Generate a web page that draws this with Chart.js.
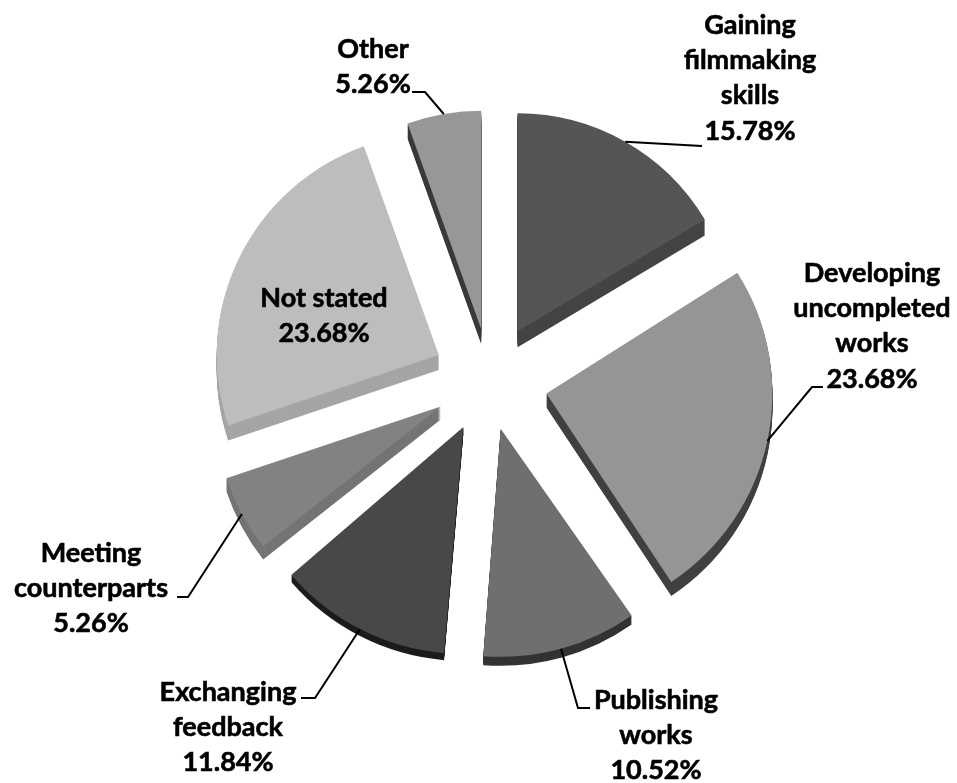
<!DOCTYPE html>
<html>
<head>
<meta charset="utf-8">
<title>Reasons for taking part</title>
<script src="https://cdn.jsdelivr.net/npm/chart.js@4"></script>
<style>
  html, body { margin: 0; background: #fff; }
  canvas { display: block; }
</style>
</head>
<body>
<canvas id="pie" width="957" height="783"></canvas>
<script>
// ---------- Data ----------
const categories = [
  ["Gaining", "filmmaking", "skills"],
  ["Developing", "uncompleted", "works"],
  ["Publishing", "works"],
  ["Exchanging", "feedback"],
  ["Meeting", "counterparts"],
  ["Not stated"],
  ["Other"]
];
const shares = [15.78, 23.68, 10.52, 11.84, 5.26, 23.68, 5.26];

// ---------- Slice styling ----------
const faceColors = ["#555555", "#959595", "#6f6f6f", "#484848", "#828282", "#bdbdbd", "#979797"];
const sideColors = ["#444444", "#404040", "#333333", "#1c1c1c", "#747474", "#a5a5a5", "#3a3a3a"];
const sideDepths = [16, 14, 9, 7, 13, 15, 15];
const explodePx  = [56, 58, 50, 54, 56, 57, 52];
const sliceRadii = [218, 226, 228, 227, 226, 222, 218];
const viewTurnDeg = [0, -1.5, -3, -2.5, 0, 0, 0]; // tilted view bends the lower slices round a little

// ---------- Callouts: label centre, first line middle, leader elbow and end ----------
const callouts = [
  { x: 750, y: 25,  leader: [[702, 146]] },
  { x: 872, y: 273, leader: [[812, 387], [823, 387]] },
  { x: 656, y: 700, leader: [[578, 708], [590, 708]] },
  { x: 228, y: 692, leader: [[315, 698], [301, 698]] },
  { x: 91,  y: 553, leader: [[188, 597], [177, 597]] },
  { x: 324, y: 298, leader: null },
  { x: 373, y: 49,  leader: [[425, 92], [412, 92]] }
];
const lineHeight = 35.3;

// Point on the outer edge of a slice, halfway round its arc
function arcEdge(arc) {
  const mid = (arc.startAngle + arc.endAngle) / 2;
  return {
    x: arc.x + Math.cos(mid) * arc.outerRadius,
    y: arc.y + Math.sin(mid) * arc.outerRadius
  };
}

const pie3d = {
  id: "pie3d",
  // Pull every slice out along its middle angle; the far side of the pie sits smaller
  afterDatasetsUpdate(chart) {
    chart.getDatasetMeta(0).data.forEach((arc, i) => {
      const turn = viewTurnDeg[i] * Math.PI / 180;
      const mid = (arc.startAngle + arc.endAngle) / 2;
      arc.x += Math.cos(mid) * explodePx[i];
      arc.y += Math.sin(mid) * explodePx[i];
      arc.startAngle += turn;
      arc.endAngle += turn;
      arc.outerRadius = sliceRadii[i];
    });
  },
  // Sweep each slice downwards in its side colour, under the faces
  beforeDatasetsDraw(chart) {
    const { ctx } = chart;
    chart.getDatasetMeta(0).data.forEach((arc, i) => {
      const faceOptions = arc.options;
      arc.options = { ...faceOptions, backgroundColor: sideColors[i], borderWidth: 0 };
      for (let d = sideDepths[i]; d > 0; d--) {
        ctx.save();
        ctx.translate(0, d);
        arc.draw(ctx);
        ctx.restore();
      }
      arc.options = faceOptions;
    });
  },
  afterDatasetsDraw(chart) {
    const { ctx } = chart;
    ctx.save();
    chart.getDatasetMeta(0).data.forEach((arc, i) => {
      const c = callouts[i];
      if (c.leader) {
        const start = arcEdge(arc);
        ctx.beginPath();
        ctx.moveTo(start.x, start.y);
        c.leader.forEach(([x, y]) => ctx.lineTo(x, y));
        ctx.strokeStyle = "#000";
        ctx.lineWidth = 2;
        ctx.stroke();
      }
      const lines = [...categories[i], shares[i].toFixed(2) + "%"];
      ctx.font = "bold 27px Lato";
      ctx.fillStyle = "#000";
      ctx.strokeStyle = "#000";
      ctx.lineWidth = 0.6; // Lato bold runs a bit light at this size
      ctx.textAlign = "center";
      ctx.textBaseline = "middle";
      lines.forEach((line, n) => {
        ctx.fillText(line, c.x, c.y + n * lineHeight);
        ctx.strokeText(line, c.x, c.y + n * lineHeight);
      });
    });
    ctx.restore();
  }
};

new Chart(document.getElementById("pie"), {
  type: "pie",
  data: {
    labels: categories.map(l => l.join(" ")),
    datasets: [{
      data: shares,
      backgroundColor: faceColors,
      borderWidth: 0,
      hoverOffset: 0
    }]
  },
  options: {
    responsive: false,
    animation: false,
    radius: 228,
    layout: { padding: { left: 23, bottom: 23 } },
    plugins: { legend: { display: false }, tooltip: { enabled: false } }
  },
  plugins: [pie3d]
});
</script>
</body>
</html>
